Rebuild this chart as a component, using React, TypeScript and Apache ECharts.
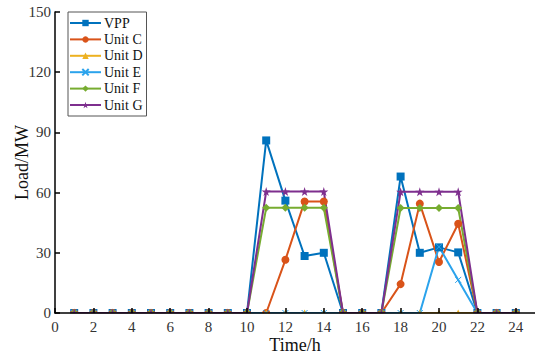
import React, { useEffect, useRef } from "react";
import * as echarts from "echarts";

const hours = [1, 2, 3, 4, 5, 6, 7, 8, 9, 10, 11, 12, 13, 14, 15, 16, 17, 18, 19, 20, 21, 22, 23, 24];
const vpp = [0, 0, 0, 0, 0, 0, 0, 0, 0, 0, 86, 56, 28.4, 30, 0, 0, 0, 68, 30, 32.7, 30.2, 0, 0, 0];
const unitC = [0, 0, 0, 0, 0, 0, 0, 0, 0, 0, 0, 26.5, 55.6, 55.6, 0, 0, 0, 14.4, 54.5, 25.4, 44.5, 0, 0, 0];
const unitD = [0, 0, 0, 0, 0, 0, 0, 0, 0, 0, 0, 0, 0, 0, 0, 0, 0, 0, 0, 0, 0, 0, 0, 0];
const unitE = [0, 0, 0, 0, 0, 0, 0, 0, 0, 0, 0, 0, 0, 0, 0, 0, 0, 0, 0, 33, 16.5, 0, 0, 0];
const unitF = [0, 0, 0, 0, 0, 0, 0, 0, 0, 0, 52.4, 52.4, 52.4, 52.4, 0, 0, 0, 52.3, 52.3, 52.3, 52.3, 0, 0, 0];
const unitG = [0, 0, 0, 0, 0, 0, 0, 0, 0, 0, 60.5, 60.5, 60.5, 60.5, 0, 0, 0, 60.4, 60.4, 60.4, 60.4, 0, 0, 0];
const names = ["VPP", "Unit C", "Unit D", "Unit E", "Unit F", "Unit G"];
const colors = ["#0072BD", "#D95319", "#EDB120", "#2BA3EC", "#77AC30", "#7E2F8E"];

const STAR = "path://M10,0L12.23,6.93L19.51,6.91L13.61,11.17L15.88,18.09L10,13.8L4.12,18.09L6.39,11.17L0.49,6.91L7.77,6.93Z";
const CROSS = "path://M0,0L10,10M10,0L0,10";
const symbols = ["rect", "circle", "triangle", CROSS, "diamond", STAR];
const sizes = [8, 8, 7, 6, 8, 9];

const FONT = "'Liberation Serif', 'Times New Roman', serif";

export default function App() {
  const ref = useRef<HTMLDivElement>(null);
  useEffect(() => {
    if (!ref.current) return;
    const chart = echarts.init(ref.current, null, { renderer: "svg" });
    const datasets = [vpp, unitC, unitD, unitE, unitF, unitG];
    const series = datasets.map((d, i) => ({
      name: names[i],
      type: "line",
      data: hours.map((h, j) => [h, d[j]]),
      symbol: symbols[i],
      symbolSize: sizes[i],
      showAllSymbol: true,
      lineStyle: { color: colors[i], width: 2 },
      itemStyle:
        i === 3
          ? { color: colors[i], borderColor: colors[i], borderWidth: 1 }
          : { color: colors[i], borderWidth: 0 },
      clip: true,
    }));
    chart.setOption({
      animation: false,
      color: colors,
      grid: { left: 55, right: 0, top: 12, bottom: 44, containLabel: false, outerBoundsMode: "none" },
      graphic: [
        {
          type: "rect",
          z: 5,
          silent: true,
          shape: { x: 55, y: 313.5, width: 480, height: 10 },
          style: { fill: "#fff" },
        },
      ],
      legend: {
        orient: "vertical",
        left: 68,
        top: 12,
        z: 8,
        data: names,
        itemWidth: 31,
        itemHeight: 8,
        itemGap: 2.4,
        padding: [4, 4, 4, 1],
        borderColor: "#555",
        borderWidth: 1,
        backgroundColor: "#fff",
        textStyle: { fontFamily: FONT, fontSize: 14, color: "#111", padding: [0, 0, 0, -2] },
      },
      xAxis: {
        type: "value",
        z: 10,
        min: 0,
        max: 25,
        interval: 2,
        name: "Time/h",
        nameLocation: "middle",
        nameGap: 23,
        nameMoveOverlap: false,
        nameTextStyle: { fontFamily: FONT, fontSize: 18, color: "#111" },
        axisLine: { onZero: false, lineStyle: { color: "#000", width: 1.5 } },
        axisTick: { inside: true, length: 5, lineStyle: { color: "#000", width: 1.5 } },
        axisLabel: { fontFamily: FONT, fontSize: 15, color: "#333", margin: 6, showMaxLabel: false },
        splitLine: { show: false },
      },
      yAxis: {
        type: "value",
        z: 10,
        min: 0,
        max: 150,
        interval: 30,
        name: "Load/MW",
        nameLocation: "middle",
        nameGap: 24,
        nameMoveOverlap: false,
        nameTextStyle: { fontFamily: FONT, fontSize: 18, color: "#111" },
        axisLine: { show: true, lineStyle: { color: "#000", width: 1.5 } },
        axisTick: { show: true, inside: true, length: 5, lineStyle: { color: "#000", width: 1.5 } },
        axisLabel: { fontFamily: FONT, fontSize: 15, color: "#333", margin: 4 },
        splitLine: { show: false },
      },
      series,
    });
    return () => chart.dispose();
  }, []);
  return <div ref={ref} style={{ width: 535, height: 357, position: "absolute", left: 0, top: 0 }} />;
}
